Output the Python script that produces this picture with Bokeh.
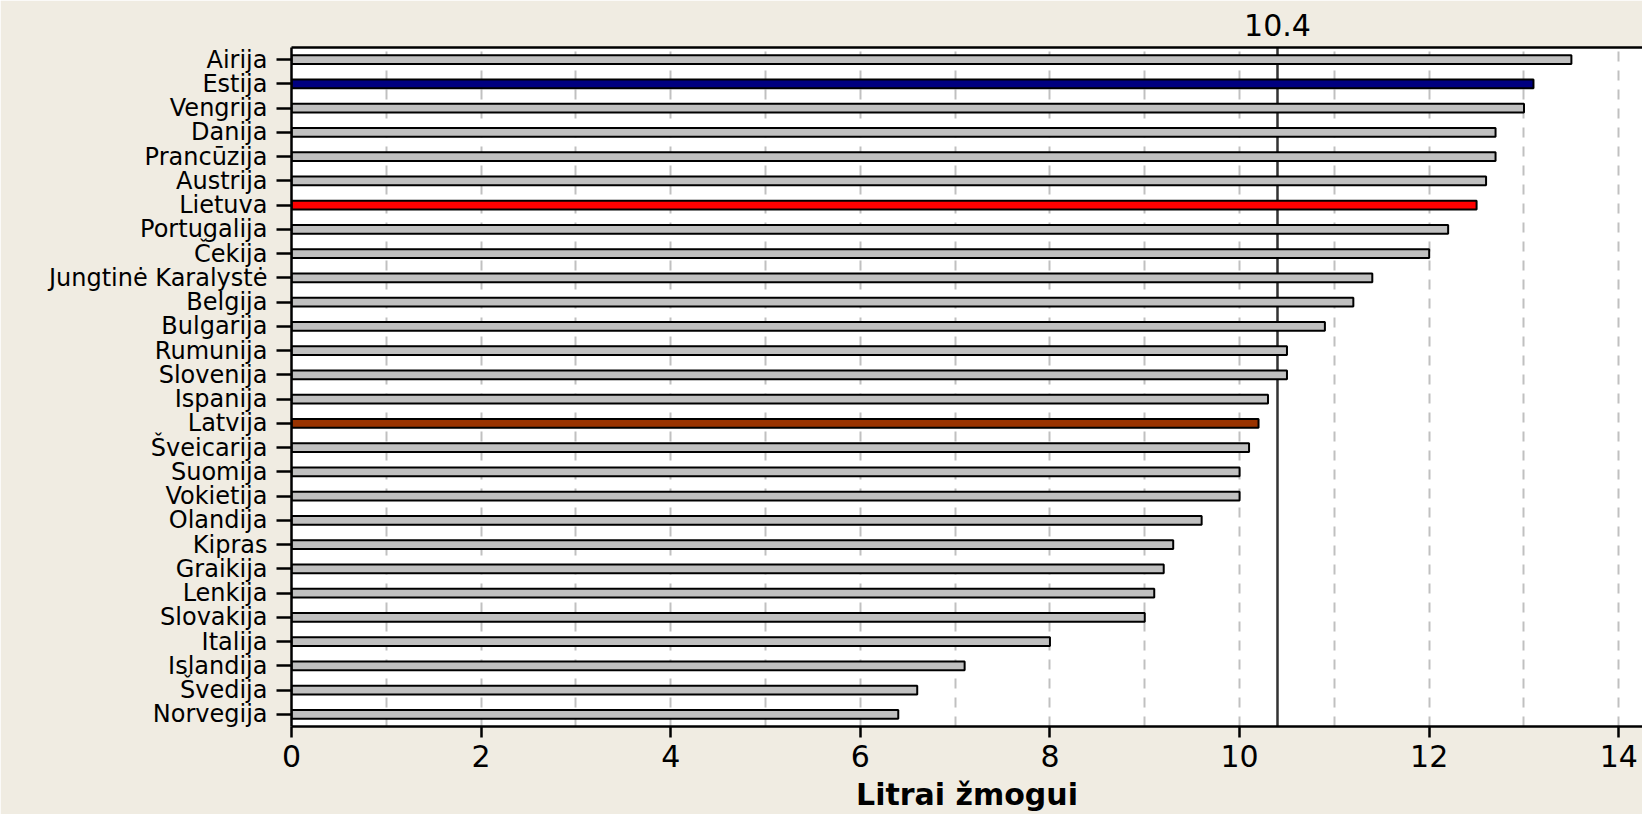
from bokeh.plotting import figure
from bokeh.models import (FactorRange, Range1d, FixedTicker, LinearAxis, Span,
                          ColumnDataSource)
from bokeh.embed import file_html
from bokeh.resources import INLINE

# ---- data (top to bottom as in the chart) ----
countries = ["Airija", "Estija", "Vengrija", "Danija", "Prancūzija", "Austrija",
             "Lietuva", "Portugalija", "Čekija", "Jungtinė Karalystė", "Belgija",
             "Bulgarija", "Rumunija", "Slovenija", "Ispanija", "Latvija",
             "Šveicarija", "Suomija", "Vokietija", "Olandija", "Kipras",
             "Graikija", "Lenkija", "Slovakija", "Italija", "Islandija",
             "Švedija", "Norvegija"]
values = [13.5, 13.1, 13.0, 12.7, 12.7, 12.6, 12.5, 12.2, 12.0, 11.4, 11.2,
          10.9, 10.5, 10.5, 10.3, 10.2, 10.1, 10.0, 10.0, 9.6, 9.3, 9.2, 9.1,
          9.0, 8.0, 7.1, 6.6, 6.4]
average = 10.4
x_ticks = [0, 2, 4, 6, 8, 10, 12, 14]
x_grid = [1, 2, 3, 4, 5, 6, 7, 8, 9, 10, 11, 12, 13, 14]
x_title = "Litrai žmogui"

# ---- styles ----
BG = "#F0ECE2"
BAR = "#C0C0C0"
highlight = {"Estija": "#000080", "Lietuva": "#FF0000", "Latvija": "#993300"}
colors = [highlight.get(c, BAR) for c in countries]
FONT = "DejaVu Sans"

src = ColumnDataSource(dict(country=countries, value=values, color=colors))

p = figure(width=1642, height=814, output_backend="svg", toolbar_location=None,
           y_range=FactorRange(factors=list(reversed(countries)), range_padding=0),
           x_range=Range1d(0, 14.25),
           background_fill_color="white", border_fill_color=BG,
           min_border_left=291, min_border_right=0, min_border_top=47,
           min_border_bottom=88)
p.outline_line_color = None

# gridlines
p.ygrid.grid_line_color = None
p.xgrid.ticker = FixedTicker(ticks=x_grid)
p.xgrid.grid_line_color = "#C0C0C0"
p.xgrid.grid_line_width = 2
p.xgrid.grid_line_dash = "10 9"

# average line (behind bars)
p.add_layout(Span(location=average, dimension="height", line_color="#333333",
                  line_width=2.5, level="underlay"))

p.hbar(y="country", right="value", left=0, height=0.36, source=src,
       fill_color="color", line_color="black", line_width=2)

# x axis
xa = p.xaxis[0]
xa.ticker = FixedTicker(ticks=x_ticks)
xa.axis_line_width = 2.5
xa.axis_line_color = "black"
xa.major_tick_line_width = 2.5
xa.major_tick_out = 11
xa.major_tick_in = 0
xa.minor_tick_line_color = None
xa.major_label_text_font = FONT
xa.major_label_text_font_size = "30px"
xa.major_label_text_color = "black"
xa.major_label_standoff = 7
xa.axis_label = x_title
xa.axis_label_text_font = FONT
xa.axis_label_text_font_size = "30px"
xa.axis_label_text_font_style = "bold"
xa.axis_label_text_color = "black"
xa.axis_label_standoff = 7

# y axis
ya = p.yaxis[0]
ya.axis_line_width = 2.5
ya.axis_line_color = "black"
ya.major_tick_line_width = 2.5
ya.major_tick_out = 15
ya.major_tick_in = 0
ya.minor_tick_line_color = None
ya.major_label_text_font = FONT
ya.major_label_text_font_size = "24px"
ya.major_label_text_color = "black"
ya.major_label_standoff = 9

# top axis: border line + average label
top = LinearAxis(ticker=FixedTicker(ticks=[average]))
top.axis_line_width = 2.5
top.axis_line_color = "black"
top.major_tick_line_color = None
top.minor_tick_line_color = None
top.major_tick_out = 0
top.major_tick_in = 0
top.major_label_text_font = FONT
top.major_label_text_font_size = "30px"
top.major_label_text_color = "black"
top.major_label_standoff = 12
p.add_layout(top, "above")

open("out.html", "w").write(file_html(p, INLINE))
